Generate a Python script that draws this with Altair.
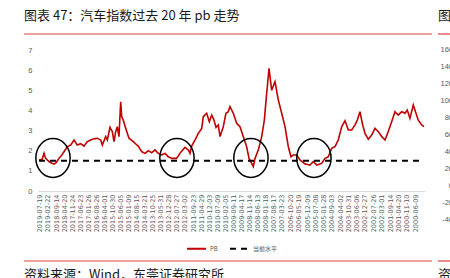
import altair as alt
import pandas as pd

# ---------------- data ----------------
dates = [
    "2019-08-07", "2019-06-12", "2019-05-05", "2019-04-04", "2019-02-01", "2018-12-08",
    "2018-10-31", "2018-09-24", "2018-07-30", "2018-06-04", "2018-04-28", "2018-02-26",
    "2017-12-25", "2017-10-24", "2017-08-24", "2017-06-22", "2017-04-21", "2017-02-19",
    "2016-11-17", "2016-08-16", "2016-06-14", "2016-05-15", "2016-03-13", "2016-02-12",
    "2015-12-24", "2015-11-11", "2015-10-11", "2015-09-09", "2015-08-10", "2015-07-10",
    "2015-06-08", "2015-05-20", "2015-04-21", "2015-03-07", "2015-01-05", "2014-10-16",
    "2014-09-15", "2014-07-16", "2014-05-13", "2014-03-13", "2014-01-11", "2013-11-08",
    "2013-09-08", "2013-07-09", "2013-05-06", "2013-03-06", "2013-01-04", "2012-11-01",
    "2012-08-01", "2012-05-31", "2012-02-27", "2011-12-28", "2011-11-26", "2011-10-26",
    "2011-08-25", "2011-06-25", "2011-04-22", "2011-03-24", "2011-01-20", "2010-12-02",
    "2010-10-19", "2010-09-06", "2010-07-31", "2010-06-18", "2010-05-17", "2010-03-17",
    "2010-01-26", "2009-12-14", "2009-11-12", "2009-09-12", "2009-07-11", "2009-05-10",
    "2009-03-10", "2009-01-06", "2008-11-23", "2008-10-04", "2008-09-04", "2008-08-03",
    "2008-06-03", "2008-04-01", "2008-02-12", "2007-12-30", "2007-11-17", "2007-09-28",
    "2007-07-29", "2007-05-28", "2007-03-26", "2007-01-23", "2006-11-23", "2006-10-04",
    "2006-08-22", "2006-06-20", "2006-04-20", "2006-01-16", "2005-10-15", "2005-08-15",
    "2005-06-13", "2005-03-12", "2005-01-09", "2004-11-09", "2004-09-07", "2004-07-08",
    "2004-05-07", "2004-03-05", "2004-01-03", "2003-11-02", "2003-08-31", "2003-07-01",
    "2003-05-19", "2003-03-30", "2003-02-15", "2002-12-27", "2002-10-26", "2002-08-24",
    "2002-06-24", "2002-04-24", "2002-02-19", "2001-12-20", "2001-10-20", "2001-08-17",
    "2001-06-17", "2001-04-17", "2001-02-12", "2000-12-12", "2000-10-31", "2000-09-11",
    "2000-07-11", "2000-05-22", "2000-04-09", "2000-02-06", "1999-12-25",
]
pb = [
    1.54, 1.55, 1.87, 1.62, 1.46, 1.38,
    1.34, 1.40, 1.62, 1.80, 1.95, 2.20,
    2.28, 2.53, 2.28, 2.35, 2.23, 2.45,
    2.57, 2.62, 2.53, 2.28, 2.70, 2.53,
    3.16, 2.95, 2.45, 2.95, 3.19, 2.70,
    4.43, 3.69, 3.52, 3.11, 2.62, 2.45,
    2.37, 2.23, 1.95, 1.87, 2.00, 1.90,
    2.04, 1.87, 1.79, 1.87, 1.70, 1.62,
    1.62, 1.87, 2.17, 2.04, 1.87, 2.23,
    2.53, 2.86, 3.11, 3.69, 3.86, 3.44,
    3.77, 3.52, 3.16, 3.28, 2.70, 3.19,
    3.86, 3.94, 4.19, 3.86, 3.36, 3.19,
    2.70, 2.20, 1.62, 1.37, 1.21, 1.62,
    2.04, 2.70, 3.52, 4.85, 6.09, 5.00,
    5.43, 4.52, 3.86, 3.19, 2.20, 1.70,
    1.79, 1.79, 1.54, 1.34, 1.29, 1.46,
    1.29, 1.37, 1.62, 1.70, 2.12, 2.20,
    2.53, 3.19, 3.49, 3.03, 3.03, 3.28,
    3.52, 3.94, 3.36, 2.86, 2.57, 2.78,
    3.11, 2.95, 2.70, 2.53, 2.95, 3.44,
    3.94, 3.77, 3.94, 3.86, 4.02, 3.61,
    4.27, 3.86, 3.52, 3.28, 3.20,
]
current_level = 1.5
series_names = ["PB", "当前水平"]

tick_dates = [
    "2019-07-19", "2019-02-22", "2018-09-14", "2018-04-20", "2017-11-24", "2017-06-23",
    "2017-01-26", "2016-08-26", "2016-04-01", "2015-10-30", "2015-06-05", "2015-01-09",
    "2014-08-15", "2014-03-21", "2013-10-25", "2013-05-31", "2012-12-28", "2012-07-27",
    "2012-03-02", "2011-09-23", "2011-04-29", "2010-12-03", "2010-07-09", "2010-02-05",
    "2009-09-11", "2009-04-17", "2008-11-14", "2008-06-13", "2008-01-18", "2007-08-17",
    "2007-03-23", "2006-10-20", "2006-05-19", "2005-12-09", "2005-07-08", "2005-01-28",
    "2004-09-03", "2004-04-02", "2003-10-31", "2003-06-06", "2002-12-27", "2002-07-26",
    "2002-03-01", "2001-09-14", "2001-04-20", "2000-11-10", "2000-06-09",
]
y_ticks = [0, 1, 2, 3, 4, 5, 6, 7]
x_domain = ["1999-12-06", "2019-08-25"]

circle_dates = ["2018-11-19", "2012-07-26", "2008-10-18", "2005-08-03"]
circle_values = [1.64, 1.64, 1.64, 1.64]

title_text = "图表 47：汽车指数过去 20 年 pb 走势"
source_text = "资料来源：Wind，东莞证券研究所"
neighbor_title = "图"
neighbor_source = "资"
neighbor_ticks = [160, 140, 120, 100, 80, 60, 40, 20, 0, -20, -40]

# ---------------- helpers ----------------
def dt(s):
    y, m, d = (int(p) for p in s.split("-"))
    return alt.DateTime(year=y, month=m, date=d, utc=True)

RED = "#C00000"
GRAY = "#595959"
ACCENT = "#E0403A"

pb_df = pd.DataFrame({"date": dates, "value": pb, "series": series_names[0]})
level_df = pd.DataFrame({
    "date": [dates[0], dates[-1]],
    "value": [current_level, current_level],
    "series": series_names[1],
})
circle_df = pd.DataFrame({"date": circle_dates, "value": circle_values})

x_enc = alt.X(
    "date:T",
    scale=alt.Scale(type="utc", domain=[dt(d) for d in x_domain], reverse=True, nice=False),
    axis=alt.Axis(
        values=[dt(d) for d in tick_dates],
        format="%Y-%m-%d",
        labelAngle=-90,
        labelFont="DejaVu Sans",
        labelFontSize=6.5,
        labelColor=GRAY,
        labelPadding=3,
        ticks=False,
        tickSize=0,
        domainColor="#d9d9d9",
        domainWidth=1,
        grid=False,
        labelOverlap=False,
        labelFlush=False,
        title=None,
    ),
)
y_enc = alt.Y(
    "value:Q",
    scale=alt.Scale(domain=[0, 7], nice=False),
    axis=alt.Axis(
        values=y_ticks,
        domain=False,
        ticks=False,
        tickSize=0,
        labelPadding=6,
        grid=False,
        title=None,
        labelFont="Liberation Sans",
        labelFontSize=7.5,
        labelColor=GRAY,
    ),
)
color_enc = alt.Color(
    "series:N",
    scale=alt.Scale(domain=series_names, range=[RED, "#000000"]),
    legend=alt.Legend(title=None),
)
dash_enc = alt.StrokeDash(
    "series:N",
    scale=alt.Scale(domain=series_names, range=[[1, 0], [6, 5]]),
    legend=alt.Legend(title=None),
)

line = alt.Chart(pb_df).mark_line(strokeWidth=1.6).encode(
    x=x_enc, y=y_enc, color=color_enc, strokeDash=dash_enc
)
level = alt.Chart(level_df).mark_line(strokeWidth=2).encode(
    x=x_enc, y=y_enc, color=color_enc, strokeDash=dash_enc
)
ellipse = "M -0.88 0 A 0.88 1 0 1 1 0.88 0 A 0.88 1 0 1 1 -0.88 0 Z"
circles = alt.Chart(circle_df).mark_point(
    shape=ellipse, size=1521, filled=False, color="#000000", strokeWidth=1.5, opacity=1
).encode(x=x_enc, y=y_enc)

one = pd.DataFrame({"k": [0]})


def text_mark(txt, x, y, size, color="#1a1a1a", align="left"):
    return alt.Chart(pd.DataFrame({"t": [txt]})).mark_text(
        align=align, baseline="middle", fontSize=size, font="Noto Sans CJK SC", color=color
    ).encode(x=alt.value(x), y=alt.value(y), text="t:N")


def hrule(x1, x2, y):
    return alt.Chart(one).mark_rule(color=ACCENT, strokeWidth=1.2).encode(
        x=alt.value(x1), x2=alt.value(x2), y=alt.value(y)
    )


title_mark = text_mark(title_text, -14, -34, 13)
source_mark = text_mark(source_text, -14, 225, 13)
nb_title = text_mark(neighbor_title, 400, -34, 13)
nb_source = text_mark(neighbor_source, 400, 225, 13)
rules = [hrule(-14, 394, -16), hrule(400, 414, -16), hrule(-14, 394, 211), hrule(400, 414, 211)]

main = alt.layer(line, level, circles, title_mark, source_mark, nb_title, nb_source, *rules)

nb_df = pd.DataFrame({"v": neighbor_ticks, "label": [str(v) for v in neighbor_ticks]})
neighbor = alt.Chart(nb_df).mark_text(
    align="right", baseline="middle", fontSize=7.5, font="Liberation Sans", color=GRAY
).encode(
    x=alt.value(415),
    y=alt.Y("v:Q", scale=alt.Scale(domain=[-40, 160], range=[170, 0]), axis=None),
    text="label:N",
)

chart = (
    alt.layer(main, neighbor)
    .resolve_scale(y="independent")
    .properties(
        width=387,
        height=141,
        padding={"left": 38, "top": 50, "right": 25, "bottom": 87},
        autosize=alt.AutoSizeParams(type="none"),
        background="white",
    )
    .configure_view(strokeWidth=0)
    .configure_legend(
        orient="none",
        legendX=148,
        legendY=188,
        direction="horizontal",
        symbolType="stroke",
        symbolSize=361,
        symbolStrokeWidth=2,
        labelFont="Noto Sans CJK SC",
        labelFontSize=6,
        labelColor=GRAY,
        labelOffset=3,
        columnPadding=8,
    )
)

chart.save("out.html", embed_options={"renderer": "svg", "actions": False})
